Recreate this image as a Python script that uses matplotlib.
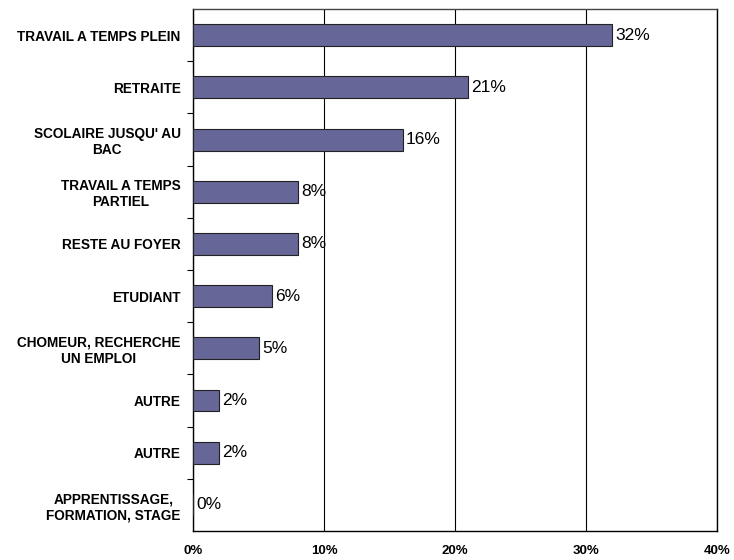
import matplotlib.pyplot as plt
from matplotlib.ticker import FuncFormatter

# Répartition par situation professionnelle
categories = ["TRAVAIL A TEMPS PLEIN", "RETRAITE", "SCOLAIRE JUSQU' AU\nBAC",
              "TRAVAIL A TEMPS\nPARTIEL", "RESTE AU FOYER", "ETUDIANT",
              "CHOMEUR, RECHERCHE\nUN EMPLOI", "AUTRE", "AUTRE",
              "APPRENTISSAGE,\nFORMATION, STAGE"]
valeurs = [32, 21, 16, 8, 8, 6, 5, 2, 2, 0]
xticks = [0, 10, 20, 30, 40]

plt.rcParams['font.family'] = ['Liberation Sans', 'DejaVu Sans']

fig = plt.figure(figsize=(7.34, 5.6), dpi=100)
ax = fig.add_axes([0.263, 0.0518, 0.714, 0.932])

pos = list(range(len(categories)))
ax.barh(pos, valeurs, height=0.42, color="#666699", edgecolor="#222222", linewidth=0.8, zorder=3)

for y, v in zip(pos, valeurs):
    ax.text(v + 0.25, y, f"{v}%", va="center", ha="left", fontsize=12.5, zorder=4)

ax.set_ylim(len(categories) - 0.5, -0.5)
ax.set_xlim(0, 40)
ax.set_yticks(pos)
ax.set_yticklabels(categories, fontsize=9.8, fontweight="bold", ha="right",
                   multialignment="center")
ax.tick_params(axis="y", length=0, pad=9)
# petits traits entre les catégories
ax.set_yticks([p + 0.5 for p in pos[:-1]], minor=True)
ax.tick_params(axis="y", which="minor", length=4, width=0.8)

ax.set_xticks(xticks)
ax.xaxis.set_major_formatter(FuncFormatter(lambda x, _: f"{int(x)}%"))
for lab in ax.get_xticklabels():
    lab.set_fontweight("bold")
    lab.set_fontsize(9.5)
ax.tick_params(axis="x", length=0, pad=10)

ax.grid(axis="x", color="black", linewidth=0.8, zorder=0)
for s in ax.spines.values():
    s.set_linewidth(1.0)
ax.spines["top"].set_color("#444444")

fig.savefig("out.png", dpi=100)
